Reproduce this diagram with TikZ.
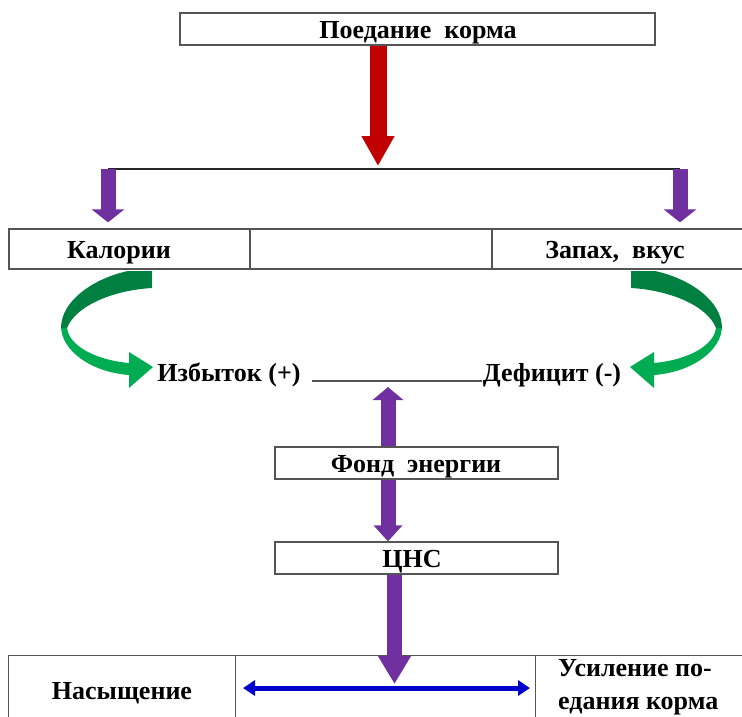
\documentclass[tikz,border=0pt]{standalone}
\usepackage{fontspec}
\setmainfont{Liberation Serif}
\usetikzlibrary{arrows.meta}
\definecolor{framegray}{RGB}{85,85,85}
\definecolor{arrowred}{RGB}{192,0,0}
\definecolor{arrowpurple}{RGB}{112,48,160}
\definecolor{ribbondark}{RGB}{0,128,64}
\definecolor{ribbonlight}{RGB}{0,172,82}
\definecolor{arrowblue}{RGB}{0,0,204}

% curved ribbon arrow (left-hand version, pixel-like coordinates)
\newcommand\curlarrow{%
  \fill[ribbonlight] (61,326) .. controls (61,350) and (90,372) .. (129,375)
    -- (129,388) -- (153,367) -- (129,352) -- (129,363)
    .. controls (95,360) and (67,345) .. (67,326) -- cycle;
  \fill[ribbondark] (152,271) -- (128,271) .. controls (95,278) and (61,300) .. (61,328)
    -- (67,328) .. controls (76,305) and (115,290) .. (152,288) -- cycle;
}

\begin{document}
\begin{tikzpicture}[x=1pt,y=-1pt,
  cell/.style={draw=framegray, line width=1.3pt, rectangle, inner sep=0pt},
  lbl/.style={font=\fontsize{26}{30}\selectfont\bfseries, inner sep=0pt, anchor=base},
  redarrow/.style={draw=arrowred, line width=17pt, -{Triangle[width=31pt,length=30pt]}},
  purplearrow/.style={draw=arrowpurple, line width=15pt},
  bluearrow/.style={draw=arrowblue, line width=5pt, {Triangle[width=15pt,length=12pt]}-{Triangle[width=15pt,length=12pt]}}
]
\useasboundingbox (0,0) rectangle (742,716);

% top box
\node[cell, minimum width=475pt, minimum height=32pt] (top) at (417.5,29) {};
\node[lbl] (toptext) at (418,38) {Поедание\ \ корма};

% distribution bar
\coordinate (barL) at (108,169);
\coordinate (barM) at (378,169);
\coordinate (barR) at (680,169);
\draw[line width=1.8pt, black!85] (barL) -- (barR);
\draw[redarrow, shorten >=3pt] (top.south -| barM) -- (barM);

% first row of cells
\node[cell, minimum width=241pt, minimum height=40pt] (kal) at (129.5,249) {};
\node[cell, minimum width=242pt, minimum height=40pt] (midcell) at (371,249) {};
\node[cell, minimum width=260pt, minimum height=40pt] (zap) at (622,249) {};
\node[lbl] (kaltext) at (119,258) {Калории};
\node[lbl] (zaptext) at (615,258) {Запах,\ \ вкус};

\draw[purplearrow, -{Triangle[width=32pt,length=13pt]}, shorten >=6pt] (barL) -- (barL |- kal.north);
\draw[purplearrow, -{Triangle[width=32pt,length=13pt]}, shorten >=6pt] (barR) -- (barR |- zap.north);

% curved ribbon arrows
\curlarrow
\begin{scope}[xshift=783pt, xscale=-1]
  \curlarrow
\end{scope}

% balance line
\node[lbl] (izb) at (229,381) {Избыток (+)};
\node[lbl] (def) at (552,381) {Дефицит (-)};
\coordinate (lnL) at (312,381);
\coordinate (lnR) at (482,381);
\draw[line width=1.3pt, framegray] (lnL) -- (lnR);
\coordinate (upT) at (388,387);

% energy and CNS boxes
\node[cell, minimum width=283pt, minimum height=32pt] (fond) at (416.5,463) {};
\node[lbl] (fondtext) at (416,472) {Фонд\ \ энергии};
\node[cell, minimum width=283pt, minimum height=32pt] (cns) at (416.5,558) {};
\node[lbl] (cnstext) at (412,567) {ЦНС};

\draw[purplearrow, -{Triangle[width=30pt,length=13pt]}] (fond.north -| upT) -- (upT);
\draw[purplearrow, -{Triangle[width=28pt,length=16pt]}] (fond.south -| upT) -- (cns.north -| upT);

% bottom row of cells
\node[cell, minimum width=227pt, minimum height=80pt, anchor=north west] (nas) at (8,655) {};
\node[cell, minimum width=300pt, minimum height=80pt, anchor=north west] (mid2) at (235,655) {};
\node[cell, minimum width=220pt, minimum height=80pt, anchor=north west] (usil) at (535,655) {};
\node[lbl] (nastext) at (122,699) {Насыщение};
\node[lbl, align=left, anchor=north west, font=\fontsize{26}{33}\selectfont\bfseries] (usiltext) at (558,659) {Усиление по-\\едания корма};

\coordinate (bigT) at (394.5,684);
\draw[purplearrow, -{Triangle[width=31pt,length=28pt]}] (cns.south -| bigT) -- (bigT);

\coordinate (blL) at (243,688);
\coordinate (blR) at (530,688);
\draw[bluearrow] (blL) -- (blR);
\end{tikzpicture}
\end{document}
